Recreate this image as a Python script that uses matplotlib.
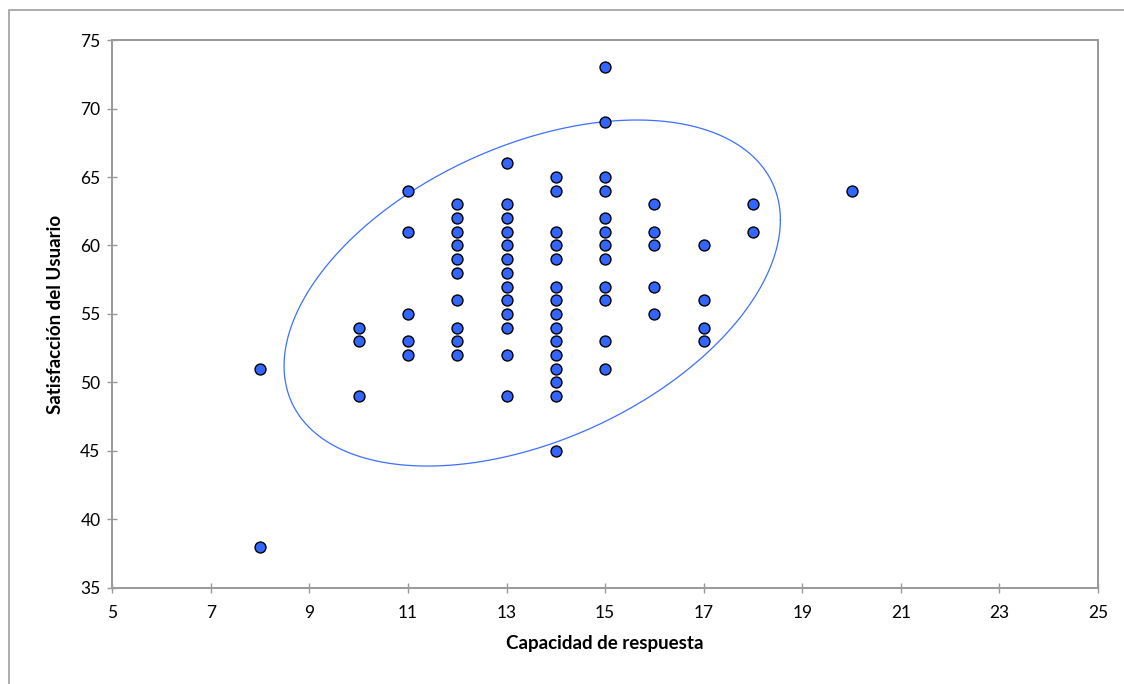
import matplotlib.pyplot as plt
import numpy as np
from matplotlib.patches import Rectangle

plt.rcParams["font.family"] = ["Lato", "DejaVu Sans"]

# Datos: capacidad de respuesta (x) y satisfacción del usuario (y)
capacidad = [8, 8,
             10, 10, 10,
             11, 11, 11, 11, 11,
             12, 12, 12, 12, 12, 12, 12, 12, 12, 12,
             13, 13, 13, 13, 13, 13, 13, 13, 13, 13, 13, 13, 13,
             14, 14, 14, 14, 14, 14, 14, 14, 14, 14, 14, 14, 14, 14, 14,
             15, 15, 15, 15, 15, 15, 15, 15, 15, 15, 15, 15,
             16, 16, 16, 16, 16,
             17, 17, 17, 17,
             18, 18,
             20]
satisfaccion = [51, 38,
                54, 53, 49,
                64, 61, 55, 53, 52,
                63, 62, 61, 60, 59, 58, 56, 54, 53, 52,
                66, 63, 62, 61, 60, 59, 58, 57, 56, 55, 54, 52, 49,
                65, 64, 61, 60, 59, 57, 56, 55, 54, 53, 52, 51, 50, 49, 45,
                73, 69, 65, 64, 62, 61, 60, 59, 57, 56, 53, 51,
                63, 61, 60, 57, 55,
                60, 56, 54, 53,
                63, 61,
                64]

# Elipse: centro, semiejes en x / y, desfase
elipse_centro = (13.52, 56.53)
elipse_ax = 5.035
elipse_ay = 12.63
elipse_fase = np.arccos(0.422)

fig = plt.figure(figsize=(11.24, 6.84), dpi=100)
ax = fig.add_axes([0.0999, 0.1404, 0.8770, 0.8011])

# Marco exterior del gráfico
fig.patches.append(Rectangle((9 / 1124, -0.01), 1.1, (684 - 10) / 684 + 0.01,
                             transform=fig.transFigure, fill=False,
                             edgecolor="#a0a0a0", lw=1.2))

t = np.linspace(0, 2 * np.pi, 400)
ex = elipse_centro[0] + elipse_ax * np.cos(t)
ey = elipse_centro[1] + elipse_ay * np.cos(t - elipse_fase)
ax.plot(ex, ey, color="#3d6fff", lw=0.9, zorder=2)

ax.scatter(capacidad, satisfaccion, s=62, c="#3366ff", edgecolors="black",
           linewidths=1.0, zorder=3)

ax.set_xlim(5, 25)
ax.set_ylim(35, 75)
ax.set_xticks(range(5, 26, 2))
ax.set_yticks(range(35, 76, 5))

for s in ax.spines.values():
    s.set_color("#999999")
    s.set_linewidth(1.4)
ax.tick_params(direction="inout", length=7, width=1, color="#999999",
               labelsize=12.5, labelcolor="black")
ax.tick_params(axis="x", pad=9)
ax.tick_params(axis="y", pad=5)

ax.set_xlabel("Capacidad de respuesta", fontsize=13.5, fontweight="bold", labelpad=10)
ax.set_ylabel("Satisfacción del Usuario", fontsize=13.5, fontweight="bold", labelpad=12)

plt.savefig("out.png", dpi=100)
